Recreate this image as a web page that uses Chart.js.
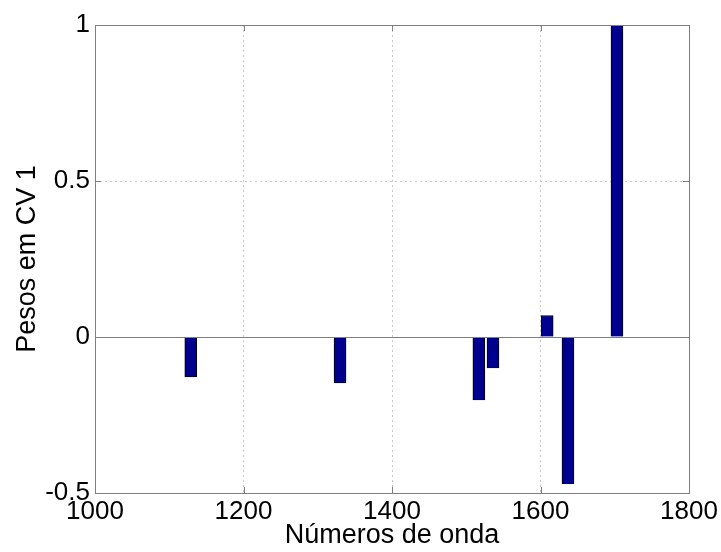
<!DOCTYPE html>
<html>
<head>
<meta charset="utf-8">
<script src="https://cdn.jsdelivr.net/npm/chart.js@4/dist/chart.umd.min.js"></script>
<style>
  html, body { margin: 0; padding: 0; background: #fff; }
  #wrap { width: 721px; height: 552px; }
</style>
</head>
<body>
<div id="wrap"><canvas id="cvChart" width="721" height="552"></canvas></div>
<script>
  // wavenumbers (cm-1) and CV1 weights
  const wavenumbers = [1129, 1330, 1517, 1536, 1609, 1637, 1703];
  const weights = [-0.128, -0.147, -0.202, -0.099, 0.069, -0.47, 1.0];
  const xTicks = [1000, 1200, 1400, 1600, 1800];
  const yTicks = [-0.5, 0, 0.5, 1];

  const fontFamily = "'Liberation Sans', Arial, sans-serif";
  const frameColor = "#7f7f7f";

  // box, inward ticks and zero baseline like the matlab figure
  const matlabBox = {
    id: "matlabBox",
    afterDatasetsDraw(chart) {
      const { ctx, chartArea: a, scales } = chart;
      const y0 = scales.y.getPixelForValue(0);
      ctx.save();
      ctx.strokeStyle = frameColor;
      ctx.lineWidth = 1;
      ctx.beginPath();
      ctx.moveTo(a.left, Math.round(y0) + 0.5);
      ctx.lineTo(a.right, Math.round(y0) + 0.5);
      ctx.stroke();
      ctx.restore();
    },
    afterDraw(chart) {
      const { ctx, chartArea: a, scales } = chart;
      const tl = 6;
      ctx.save();
      ctx.strokeStyle = frameColor;
      ctx.lineWidth = 1;
      ctx.strokeRect(Math.round(a.left) + 0.5, Math.round(a.top) + 0.5,
        Math.round(a.right - a.left), Math.round(a.bottom - a.top));
      ctx.beginPath();
      xTicks.forEach(v => {
        const px = Math.round(scales.x.getPixelForValue(v)) + 0.5;
        ctx.moveTo(px, a.bottom); ctx.lineTo(px, a.bottom - tl);
        ctx.moveTo(px, a.top); ctx.lineTo(px, a.top + tl);
      });
      yTicks.forEach(v => {
        const py = Math.round(scales.y.getPixelForValue(v)) + 0.5;
        ctx.moveTo(a.left, py); ctx.lineTo(a.left + tl, py);
        ctx.moveTo(a.right, py); ctx.lineTo(a.right - tl, py);
      });
      ctx.stroke();
      ctx.restore();
    }
  };

  new Chart(document.getElementById("cvChart"), {
    type: "bar",
    data: {
      datasets: [{
        label: "Pesos em CV 1",
        data: wavenumbers.map((w, i) => ({ x: w, y: weights[i] })),
        backgroundColor: "#00008f",
        borderColor: "#000000",
        borderWidth: 1,
        barThickness: 12
      }]
    },
    plugins: [matlabBox],
    options: {
      responsive: false,
      animation: false,
      layout: { padding: { top: 25, right: 32, left: 0, bottom: 0 } },
      plugins: {
        legend: { display: false },
        tooltip: { enabled: false }
      },
      scales: {
        x: {
          type: "linear",
          min: 1000,
          max: 1800,
          offset: false,
          afterFit: s => { s.height = 59; },
          afterBuildTicks: s => { s.ticks = xTicks.map(v => ({ value: v })); },
          ticks: {
            color: "#000",
            padding: 3,
            maxRotation: 0,
            font: { family: fontFamily, size: 26 },
            callback: v => String(v)
          },
          grid: {
            offset: false,
            drawTicks: false,
            color: c => (c.tick && (c.tick.value === 1000 || c.tick.value === 1800)) ? "rgba(0,0,0,0)" : "#c8c8c8"
          },
          border: { display: false, dash: [2, 3] },
          title: {
            display: true,
            text: "Números de onda",
            color: "#000",
            padding: { top: 0, bottom: 0 },
            font: { family: fontFamily, size: 27 }
          }
        },
        y: {
          min: -0.5,
          max: 1,
          afterFit: s => { s.width = 95; },
          afterBuildTicks: s => { s.ticks = yTicks.map(v => ({ value: v })); },
          ticks: {
            color: "#000",
            padding: 5,
            font: { family: fontFamily, size: 26 },
            callback: v => String(v)
          },
          grid: {
            drawTicks: false,
            color: c => (c.tick && c.tick.value === 0.5) ? "#c8c8c8" : "rgba(0,0,0,0)"
          },
          border: { display: false, dash: [2, 3] },
          title: {
            display: true,
            text: "Pesos em CV 1",
            color: "#000",
            padding: { top: 11, bottom: 0 },
            font: { family: fontFamily, size: 27 }
          }
        }
      }
    }
  });
</script>
</body>
</html>
